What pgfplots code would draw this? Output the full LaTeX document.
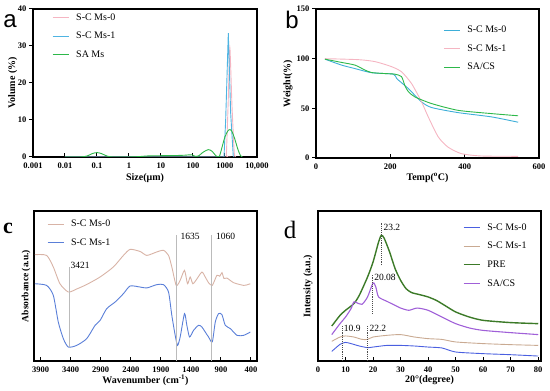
\documentclass[border=0pt]{standalone}
\usepackage{fontspec}
\setmainfont{Liberation Serif}
\setsansfont{Liberation Sans}
\usepackage{pgfplots}
\pgfplotsset{compat=1.18}

\definecolor{apink}{HTML}{F5B5C2}
\definecolor{ablue}{HTML}{4FB4E2}
\definecolor{agreen}{HTML}{2DB84A}
\definecolor{bcyan}{HTML}{3DAED8}
\definecolor{ctan}{HTML}{D8B3A6}
\definecolor{cblue}{HTML}{5A7FD8}
\definecolor{dblue}{HTML}{4A5FE0}
\definecolor{dtan}{HTML}{C9AA92}
\definecolor{dgreen}{HTML}{3C7A28}
\definecolor{dpurple}{HTML}{A060D8}
\definecolor{vgray}{HTML}{BBBBBB}

\pgfplotsset{
 panel/.style={
  scale only axis, anchor=south west,
  axis line style={line width=1.1pt},
  tick align=inside, tick pos=left, major tick length=4pt,
  tick style={line width=1pt, black},
  ticklabel style={font=\bfseries\fontsize{8.5}{9}\selectfont},
  xticklabel style={yshift=-2pt},
  label style={font=\bfseries\fontsize{10}{11}\selectfont},
  /pgf/number format/assume math mode=true,
  /pgf/number format/1000 sep={},
  legend style={draw=none, fill=none, font=\fontsize{10}{11}\selectfont,
    row sep=6.5pt, anchor=north west, inner sep=0pt, cells={anchor=west}},
  legend image code/.code={\draw[##1, line width=1pt] (0pt,0pt) -- (16pt,0pt); \path (21pt,0pt);},
  every axis plot/.append style={line width=0.9pt, no markers},
 }
}

\begin{document}
\begin{tikzpicture}
\useasboundingbox (0pt,0pt) rectangle (550pt,391pt);

% panel letters
\node[font=\sffamily\fontsize{24}{24}\selectfont] at (10pt,370pt) {a};
\node[font=\sffamily\fontsize{24}{24}\selectfont] at (292pt,371pt) {b};
\node[font=\bfseries\fontsize{22}{22}\selectfont] at (8pt,163pt) {c};
\node[font=\fontsize{25}{25}\selectfont] at (290pt,161pt) {d};

% ---------------- a ----------------
\begin{axis}[panel, at={(33pt,234pt)}, width=224pt, height=148pt,
  xmode=log, xmin=0.001, xmax=10000, ymin=0, ymax=40,
  xtick={0.001,0.01,0.1,1,10,100,1000,10000},
  xticklabels={0.001,0.01,0.1,1,10,100,1000,{10,000}},
  xminorticks=false,
  ytick={0,10,20,30,40}, ytick style={xshift=-4pt},
  yticklabel style={xshift=-3pt},
  xlabel={Size(μm)}, ylabel={Volume (\%)},
  xlabel style={at={(axis description cs:0.5,-0.142)}, anchor=center},
  ylabel style={at={(axis description cs:-0.09,0.5)}, anchor=center},
  legend style={at={(axis description cs:0.085,0.985)}},
]
\addplot[apink, smooth, tension=0.3] coordinates {(0.01,0) (1000,0) (1100,0.5) (1250,14) (1420,29.5) (1650,14) (1950,1) (2200,0)};
\addlegendentry{S-C Ms-0}
\addplot[ablue, sharp plot] coordinates {(0.01,0) (930,0) (1050,10) (1270,33.5) (1500,12) (1820,0)};
\addlegendentry{S-C Ms-1}
\addplot[agreen, smooth, tension=0.5] coordinates {(0.01,0) (0.03,0) (0.05,0.3) (0.07,0.9) (0.1,1.2) (0.14,0.9) (0.2,0.3) (0.3,0) (1,0) (2,0.1) (4,0.3) (10,0.35) (30,0.4) (60,0.5) (90,0.6) (120,0.15) (150,0.3) (200,1.2) (300,2.0) (400,1.5) (500,0.5) (650,0) (800,2.5) (1000,5.5) (1300,7.3) (1600,7.1) (2000,5) (2500,2.2) (3000,0.5) (3500,0)};
\addlegendentry{SA Ms}
\end{axis}

% ---------------- b ----------------
\begin{axis}[panel, at={(316pt,233pt)}, width=223pt, height=149pt,
  xmin=0, xmax=600, ymin=0, ymax=150,
  xtick={0,200,400,600}, ytick={0,50,100,150},
  ytick style={xshift=-4pt}, yticklabel style={xshift=-3pt},
  xlabel={Temp(\textsuperscript{o}C)}, ylabel={Weight(\%)},
  xlabel style={at={(axis description cs:0.5,-0.135)}, anchor=center},
  ylabel style={at={(axis description cs:-0.126,0.5)}, anchor=center},
  legend style={at={(axis description cs:0.57,0.90)}},
]
\addplot[bcyan, smooth, tension=0.4] coordinates {(24,99.5) (69,93.5) (105,90) (150,85.8) (208,84.4) (217,80) (248,70) (284,56.5) (311,50.8) (382,45.7) (472,41.4) (544,36)};
\addlegendentry{S-C Ms-0}
\addplot[apink, smooth, tension=0.4] coordinates {(24,100) (114,99) (159,97) (203,92) (230,86.8) (257,75) (284,56.5) (302,41.4) (329,21.2) (355,11) (391,4.4) (445,2) (544,1.7)};
\addlegendentry{S-C Ms-1}
\addplot[agreen, smooth, tension=0.4] coordinates {(24,99.5) (69,96.2) (105,93.5) (132,88.5) (150,86) (185,85) (212,84.4) (230,82) (239,73) (248,67) (266,61.5) (311,54.8) (382,48) (472,44.7) (544,42.5)};
\addlegendentry{SA/CS}
\end{axis}

% ---------------- c ----------------
\begin{axis}[panel, at={(34pt,30pt)}, width=223pt, height=150pt,
  x dir=reverse, xmin=300, xmax=4010, ymin=0, ymax=100,
  xtick={3900,3400,2900,2400,1900,1400,900,400}, ytick=\empty,
  xlabel={Wavenumber (cm\textsuperscript{-1})}, ylabel={Absorbance (a.u.)},
  xlabel style={at={(axis description cs:0.5,-0.127)}, anchor=center},
  ylabel style={at={(axis description cs:-0.036,0.5)}, anchor=center, font=\bfseries\fontsize{9.5}{10}\selectfont},
  legend style={at={(axis description cs:0.058,0.955)}},
]
\addplot[ctan, smooth, tension=0.4] coordinates {(3994,70.9) (3800,70.4) (3689,62.7) (3578,51.5) (3439,46) (3300,48) (3133,51) (2911,56) (2689,62.7) (2522,70.4) (2411,74.4) (2244,73) (2133,70.4) (1967,72.7) (1856,73.8) (1772,70.4) (1717,62.7) (1644,50.4) (1578,53.8) (1506,60.4) (1456,51.5) (1411,56) (1367,51.5) (1300,54.7) (1217,59.3) (1161,56) (1106,52.2) (1044,50.4) (967,57.1) (920,56.5) (883,58.9) (850,55) (800,55.3) (689,52.2) (522,50.4) (450,51) (411,51.5)};
\addlegendentry{S-C Ms-0}
\addplot[cblue, smooth, tension=0.4] coordinates {(3994,51.5) (3800,50.4) (3689,43.8) (3606,26) (3522,14.9) (3439,9.3) (3300,10.4) (3133,14.9) (2994,23.8) (2911,27) (2800,34.9) (2661,39.3) (2522,44.9) (2411,50) (2244,49.3) (2133,48.7) (1967,50.9) (1856,50.9) (1772,46) (1717,30.4) (1661,17.1) (1622,10.4) (1578,16) (1506,31.6) (1467,23.8) (1422,16) (1356,20.4) (1272,23.8) (1217,22.7) (1161,19.3) (1106,16) (1044,12.7) (994,26) (939,31.6) (883,30.9) (828,23.8) (744,21.6) (633,17.1) (522,17.1) (411,19.3)};
\addlegendentry{S-C Ms-1}
\addplot[vgray, line width=0.6pt, forget plot] coordinates {(3421,9.3) (3421,62.7)};
\addplot[vgray, line width=0.6pt, forget plot] coordinates {(1635,0) (1635,83.8)};
\addplot[vgray, line width=0.6pt, forget plot] coordinates {(1060,0) (1060,83.8)};
\node[anchor=south west, inner sep=1pt, font=\fontsize{9.5}{10}\selectfont] at (axis cs:3421,61) {3421};
\node[anchor=west, inner sep=1pt, font=\fontsize{9.5}{10}\selectfont] at (axis cs:1590,83) {1635};
\node[anchor=west, inner sep=1pt, font=\fontsize{9.5}{10}\selectfont] at (axis cs:1000,83) {1060};
\end{axis}

% ---------------- d ----------------
\begin{axis}[panel, at={(318pt,30pt)}, width=223pt, height=150pt,
  xmin=0, xmax=81, ymin=0, ymax=100,
  xtick={0,10,...,80}, ytick=\empty,
  xlabel={20°(degree)}, ylabel={Intensity (a.u.)},
  xlabel style={at={(axis description cs:0.5,-0.127)}, anchor=center},
  ylabel style={at={(axis description cs:-0.045,0.5)}, anchor=center},
  legend style={at={(axis description cs:0.65,0.93)}},
]
\addplot[dblue, smooth, tension=0.4] coordinates {(5,6.4) (8,11.1) (10,12.4) (12,11.6) (15,10) (18,8.9) (20,9.3) (25,10.4) (30,10.4) (35,10) (40,9.3) (45,8.7) (50,6) (60,4.9) (70,4.2) (80,3.3)};
\addlegendentry{S-C Ms-0}
\addplot[dtan, smooth, tension=0.4] coordinates {(5,13.1) (8,16) (10,16.7) (13,16) (16,14.4) (18,14.4) (20,16) (25,17.1) (30,17.6) (35,16) (40,14.9) (45,14.4) (50,12.7) (60,11.6) (70,10.9) (80,10.4)};
\addlegendentry{S-C Ms-1}
\addplot[dgreen, smooth, tension=0.4, line width=1.4pt] coordinates {(5,23.3) (8,30.4) (10,33.8) (13,38.2) (15,43.8) (18,56) (20,66) (22,79.3) (23,83.8) (24,82) (26,72.7) (28,61.6) (30,53.8) (32,48.2) (34,45.6) (37,44.2) (40,42.7) (43,40.4) (46,37.1) (50,32.7) (55,29.3) (60,27.1) (70,25.6) (80,24.9)};
\addlegendentry{PRE}
\addplot[dpurple, smooth, tension=0.4, line width=1.1pt] coordinates {(5,17.6) (8,24.9) (10,29.3) (12,34.9) (13,39.3) (14,38.9) (16,37.8) (18,42.7) (20,52) (21,49.3) (22,42.7) (25,39.8) (28,37.1) (30,35.3) (33,33.8) (36,35.3) (40,33.8) (45,29.3) (50,24.9) (55,22) (60,20.4) (70,18.9) (80,17.6)};
\addlegendentry{SA/CS}
\addplot[black!70, densely dotted, line width=0.8pt, forget plot] coordinates {(8.7,0) (8.7,23.8)};
\addplot[black!70, densely dotted, line width=0.8pt, forget plot] coordinates {(17.8,0) (17.8,23.1)};
\addplot[black!70, densely dotted, line width=0.8pt, forget plot] coordinates {(19.9,31.6) (19.9,57)};
\addplot[black!70, densely dotted, line width=0.8pt, forget plot] coordinates {(22.9,63.8) (22.9,92.7)};
\node[anchor=west, inner sep=1pt, font=\fontsize{9.5}{10}\selectfont] at (axis cs:9.0,21.6) {10.9};
\node[anchor=west, inner sep=1pt, font=\fontsize{9.5}{10}\selectfont] at (axis cs:18.3,21.6) {22.2};
\node[anchor=west, inner sep=1pt, font=\fontsize{9.5}{10}\selectfont] at (axis cs:20.0,56) {20.08};
\node[anchor=west, inner sep=1pt, font=\fontsize{9.5}{10}\selectfont] at (axis cs:23.4,89.3) {23.2};
\end{axis}
\end{tikzpicture}
\end{document}
